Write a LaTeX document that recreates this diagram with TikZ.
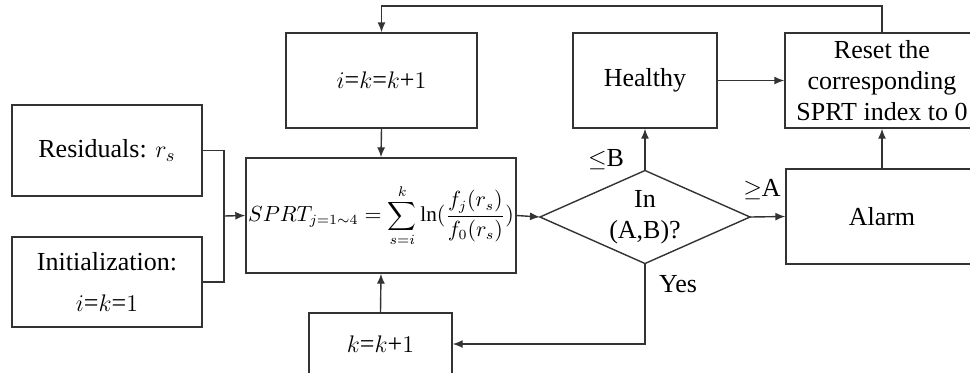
\documentclass[tikz,border=0pt]{standalone}
\usepackage{fontspec}
\setmainfont{Liberation Serif}
\usetikzlibrary{arrows.meta}
\tikzset{box/.style={draw=black!80, line width=0.7pt, inner sep=2pt, align=center},
  link/.style={draw=black!80, line width=0.7pt, -{Latex[length=5pt,width=4pt]}}}
\begin{document}
\begin{tikzpicture}[x=0.5pt, y=-0.5pt, font=\fontsize{13}{15.5}\selectfont]
\useasboundingbox (0,0) rectangle (970,372);
\clip (0,0) rectangle (970,372);
\node[box, minimum width=95pt, minimum height=45.5pt] (res) at (107,150.5) {Residuals: $r_s$};
\node[box, minimum width=95pt, minimum height=45pt] (init) at (107,282) {Initialization:\\[5pt] $i$=$k$=$1$};
\node[box, minimum width=135pt, minimum height=57.5pt, inner sep=0pt, font=\fontsize{10.6}{13}\selectfont] (sprt) at (381,215.5)
  {$SPRT_{j=1\sim4}=\displaystyle\sum_{s=i}^{k}\ln(\frac{f_j(r_s)}{f_0(r_s)})$};
\node[box, minimum width=95.5pt, minimum height=47.5pt] (upd) at (381.5,80.5) {$i$=$k$=$k$+$1$};
\node[box, minimum width=71.5pt, minimum height=31pt] (kinc) at (380.5,344) {$k$=$k$+$1$};
\draw[black!80, line width=0.7pt] (540,217) -- (645,170.5) -- (750,217) -- (645,263.5) -- cycle;
\node[align=center] (dia) at (645,217) {In\\(A,B)?};
\coordinate (diaW) at (540,217); \coordinate (diaE) at (750,217);
\coordinate (diaN) at (645,170.5); \coordinate (diaS) at (645,263.5);
\node[box, minimum width=72pt, minimum height=47.5pt] (healthy) at (645,80.5) {Healthy};
\node[box, minimum width=97pt, minimum height=47.5pt, inner sep=0pt] (reset) at (882,80.5)
  {Reset the\\corresponding\\SPRT index to 0};
\node[box, minimum width=96pt, minimum height=47.5pt] (alarm) at (882,216.5) {Alarm};
\coordinate (join) at (224,216);
\draw[black!80, line width=0.7pt] (res.east) -| (join) |- (init.east);
\draw[link] (join) -- (sprt.west);
\draw[link] (sprt.east) -- (diaW);
\draw[link] (diaN) -- (healthy.south);
\draw[link] (diaE) -- (alarm.west);
\draw[link] (healthy.east) -- (reset.west);
\draw[link] (alarm.north) -- (reset.south);
\draw[link] (reset.north) -- (882,6) -| (upd.north);
\draw[link] (upd.south) -- (sprt.north);
\draw[link] (diaS) |- (kinc.east);
\draw[link] (kinc.north) -- (sprt.south);
\node (lb) at (606,160) {$\leq$B}; \node (ga) at (762,190) {$\geq$A}; \node (yes) at (678,284) {Yes};
\end{tikzpicture}
\end{document}
